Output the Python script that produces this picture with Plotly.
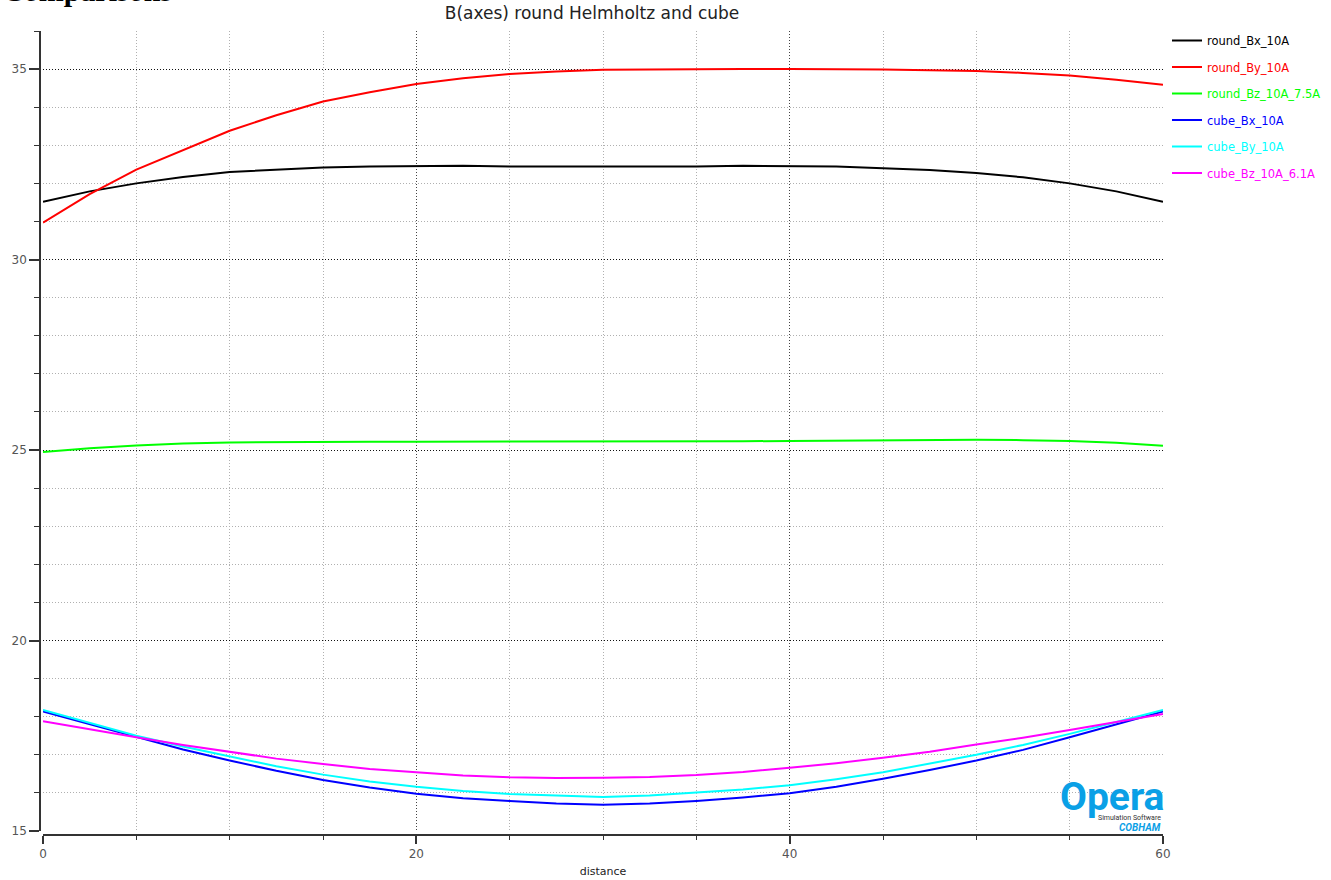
import plotly.graph_objects as go

# Sample positions along the axis (distance)
distance = [0, 2.5, 5, 7.5, 10, 12.5, 15, 17.5, 20, 22.5, 25, 27.5, 30,
            32.5, 35, 37.5, 40, 42.5, 45, 47.5, 50, 52.5, 55, 57.5, 60]

# Field components, round Helmholtz coils
round_Bx_10A = [31.52, 31.79, 32.00, 32.17, 32.30, 32.37, 32.42, 32.44, 32.45, 32.46,
                32.44, 32.44, 32.44, 32.44, 32.44, 32.46, 32.45, 32.44, 32.40, 32.35,
                32.27, 32.16, 32.00, 31.79, 31.52]
round_By_10A = [30.97, 31.72, 32.36, 32.87, 33.38, 33.79, 34.15, 34.39, 34.61, 34.76,
                34.87, 34.94, 34.98, 34.99, 35.00, 35.00, 35.00, 35.00, 34.99, 34.97,
                34.95, 34.90, 34.83, 34.72, 34.59]
round_Bz_10A_7_5A = [24.95, 25.05, 25.12, 25.17, 25.20, 25.21, 25.22, 25.22, 25.22, 25.22,
                     25.22, 25.22, 25.22, 25.22, 25.22, 25.23, 25.24, 25.25, 25.26, 25.27,
                     25.27, 25.26, 25.24, 25.19, 25.11]

# Field components, cube coils
cube_Bx_10A = [18.14, 17.80, 17.46, 17.14, 16.85, 16.58, 16.34, 16.14, 15.98, 15.86,
               15.79, 15.72, 15.69, 15.72, 15.79, 15.88, 15.99, 16.16, 16.37, 16.60,
               16.85, 17.13, 17.46, 17.80, 18.14]
cube_By_10A = [18.18, 17.84, 17.50, 17.22, 16.95, 16.70, 16.48, 16.30, 16.16, 16.05,
               15.97, 15.92, 15.89, 15.93, 16.00, 16.09, 16.20, 16.36, 16.54, 16.76,
               17.00, 17.26, 17.55, 17.86, 18.18]
cube_Bz_10A_6_1A = [17.88, 17.66, 17.46, 17.26, 17.07, 16.90, 16.76, 16.63, 16.54, 16.46,
                    16.41, 16.39, 16.40, 16.42, 16.47, 16.55, 16.66, 16.78, 16.92, 17.08,
                    17.27, 17.45, 17.65, 17.86, 18.07]

series = [
    ("round_Bx_10A", round_Bx_10A, "#000000"),
    ("round_By_10A", round_By_10A, "#ff0000"),
    ("round_Bz_10A_7.5A", round_Bz_10A_7_5A, "#00ff00"),
    ("cube_Bx_10A", cube_Bx_10A, "#0000ff"),
    ("cube_By_10A", cube_By_10A, "#00ffff"),
    ("cube_Bz_10A_6.1A", cube_Bz_10A_6_1A, "#ff00ff"),
]

FONT = "DejaVu Sans, Verdana, sans-serif"

fig = go.Figure()
for i, (name, values, color) in enumerate(series):
    fig.add_trace(go.Scatter(
        x=distance, y=values, mode="lines",
        name=f"<span style='color:{color}'>{name}</span>",
        legendgroup=f"g{i}",
        line=dict(color=color, width=2),
    ))

W, H = 1331, 880
ml, mr, mt, mb = 40, 168, 31, 45
pw = W - ml - mr
ph = H - mt - mb

fig.update_layout(
    width=W, height=H,
    margin=dict(l=ml, r=mr, t=mt, b=mb, autoexpand=False),
    paper_bgcolor="white", plot_bgcolor="white",
    font=dict(family=FONT, size=12, color="#444444"),
    title=dict(text="B(axes) round Helmholtz and cube", x=592 / W,
               xanchor="center", y=1 - 13 / H, yanchor="middle",
               font=dict(size=17, color="#222222", family=FONT)),
    showlegend=True,
    legend=dict(x=1 + 4 / pw, xanchor="left", y=1 + 5 / ph, yanchor="top",
                font=dict(size=11.5, family=FONT), tracegroupgap=7.5,
                itemwidth=30, bgcolor="rgba(0,0,0,0)"),
    xaxis=dict(
        domain=[3 / pw, 1], range=[0, 60], anchor="free", position=0,
        automargin=False,
        tickmode="linear", tick0=0, dtick=20,
        showline=True, linecolor="#333333", linewidth=1.5,
        ticks="outside", ticklen=8, tickwidth=1.5, tickcolor="#333333",
        showgrid=True, gridcolor="#444444", griddash="1px,2px", gridwidth=1,
        zeroline=False,
        tickfont=dict(size=12, color="#555555"),
        title=dict(text="distance", font=dict(size=11, color="#222222"), standoff=6),
        minor=dict(dtick=5, tick0=0, ticks="outside", ticklen=4, tickwidth=1,
                   tickcolor="#333333", showgrid=True, gridcolor="#b0b0b0",
                   griddash="1px,2px", gridwidth=1),
    ),
    yaxis=dict(
        domain=[4 / ph, 1], range=[15, 36], anchor="free", position=0,
        automargin=False,
        tickmode="linear", tick0=15, dtick=5,
        showline=True, linecolor="#333333", linewidth=1.5,
        ticks="outside", ticklen=10, tickwidth=1.5, tickcolor="#333333",
        showgrid=True, gridcolor="#111111", griddash="1px,2px", gridwidth=1,
        zeroline=False,
        tickfont=dict(size=12, color="#555555"),
        minor=dict(dtick=1, tick0=15, ticks="outside", ticklen=5, tickwidth=1,
                   tickcolor="#333333", showgrid=True, gridcolor="#b0b0b0",
                   griddash="1px,2px", gridwidth=1),
    ),
)

# Page heading above the chart
fig.add_annotation(
    text="<b>Comparisons</b>", xref="paper", yref="paper",
    x=-ml / pw, xanchor="left", y=1 + 22 / ph, yanchor="bottom",
    showarrow=False, font=dict(family="Liberation Serif, serif", size=30, color="#000000"),
)

# Opera logo in the lower right corner
fig.add_annotation(
    text="<b>Opera</b>", xref="paper", yref="paper",
    x=1 + 3 / pw, xanchor="right", y=(831 - 818) / ph, yanchor="bottom",
    showarrow=False, font=dict(family="Roboto, sans-serif", size=39, color="#0aa0e6"),
)
fig.add_annotation(
    text="Simulation Software", xref="paper", yref="paper",
    x=1, xanchor="right", y=(831 - 814) / ph, yanchor="middle",
    showarrow=False, font=dict(family="Roboto, sans-serif", size=7, color="#333333"),
)
fig.add_annotation(
    text="<b><i>COBHAM</i></b>", xref="paper", yref="paper",
    x=1, xanchor="right", y=(831 - 823) / ph, yanchor="middle",
    showarrow=False, font=dict(family="Roboto, sans-serif", size=10, color="#0aa0e6"),
)

fig.write_html("out.html")
